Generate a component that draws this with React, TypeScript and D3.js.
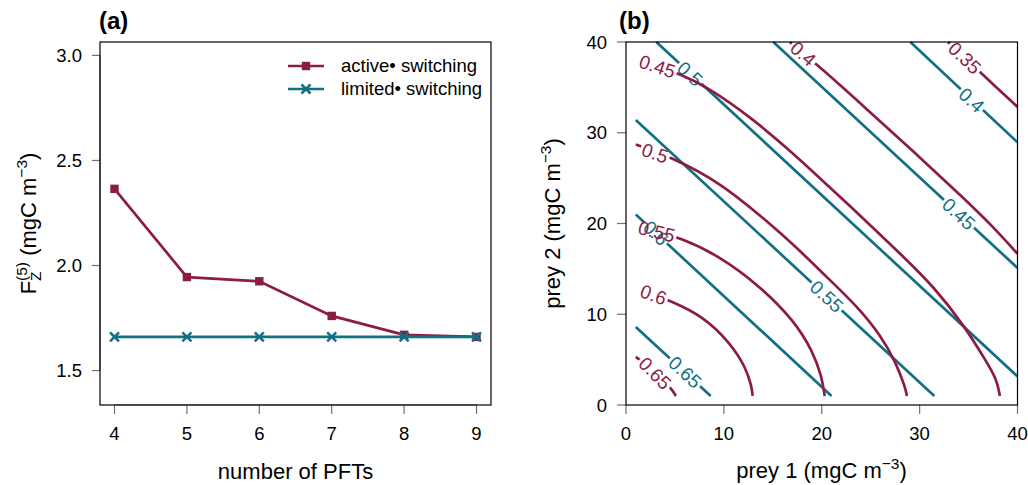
import React from "react";
import * as d3 from "d3";

const FONT = "'Liberation Sans', Arial, Helvetica, sans-serif";
const CRIMSON = "#8c1c47";
const TEAL = "#117183";
const TICK_GRAY = "#707070";

// ---------- Panel (a) data ----------
const numberOfPFTs = [4, 5, 6, 7, 8, 9];
const activeSwitchingF = [2.365, 1.945, 1.925, 1.76, 1.67, 1.66];
const limitedSwitchingF = [1.66, 1.66, 1.66, 1.66, 1.66, 1.66];
const yTicksA = [1.5, 2.0, 2.5, 3.0];
const yTickLabelsA = ["1.5", "2.0", "2.5", "3.0"];
const legendLabels = ["active\u2022 switching", "limited\u2022 switching"];

// ---------- Panel (b) data (prey1, prey2) ----------
const preyTicks = [0, 10, 20, 30, 40];

const limitedLevels = ["0.65", "0.6", "0.55", "0.5", "0.45", "0.4"];
const limitedLines: number[][][] = [
  [[1, 8.6], [8.65, 1]],
  [[1, 21], [21, 1]],
  [[1, 31.4], [31.5, 1]],
  [[3.1, 40], [40, 3.15]],
  [[15.05, 40], [40, 15.1]],
  [[29.05, 40], [40, 28.95]],
];
const limitedLabelAt = [
  [6.03, 3.62],
  [3.05, 18.95],
  [20.5, 11.97],
  [6.54, 36.5],
  [34.0, 21.05],
  [35.3, 33.6],
];

const activeLevels = ["0.65", "0.6", "0.55", "0.5", "0.45", "0.4", "0.35"];
const activeLines: number[][][] = [
  [[1.0, 5.3], [2.0, 4.55], [3.0, 3.6], [4.0, 2.5], [4.7, 1.7], [5.1, 1.0]],
  [[2.8, 12.15], [4.5, 11.5], [7.9, 9.77], [10.6, 6.9], [12.2, 4.25], [12.84, 2.05], [12.94, 1.0]],
  [[3.13, 19.1], [5.45, 18.47], [9.6, 16.4], [13.7, 13.07], [17.1, 9.4], [19.1, 5.9], [20.0, 3.15], [20.3, 1.0]],
  [[1.0, 28.7], [4.9, 27.2], [9.6, 24.5], [13.7, 20.9], [17.3, 17.5], [20.6, 14.0], [23.6, 10.9], [26.1, 7.56], [27.6, 4.6], [28.5, 2.05], [28.7, 1.0]],
  [[3.2, 37.3], [5.45, 36.5], [8.4, 35.0], [13.0, 31.5], [17.0, 27.8], [20.4, 24.4], [24.4, 20.4], [28.0, 16.7], [31.5, 13.0], [34.6, 8.66], [36.7, 5.0], [37.9, 2.8], [38.2, 1.0]],
  [[16.75, 40], [18.1, 38.7], [19.65, 37.4], [24.4, 32.8], [29.5, 27.8], [34.6, 22.7], [37.4, 19.76], [40, 16.67]],
  [[32.9, 40], [34.6, 38.25], [36.3, 36.55], [40, 32.85]],
];
const activeLabelAt = [
  [2.96, 3.5],
  [2.8, 12.15],
  [3.13, 19.1],
  [2.96, 27.75],
  [3.2, 37.3],
  [18.1, 38.7],
  [34.6, 38.25],
];

const LABEL_FS = 19;
const TICK_FS = 18.5;
const AXIS_FS = 22;

function textWidth(s: string, fs: number) {
  let w = 0;
  for (const c of s) w += c === "." ? 0.278 : 0.556;
  return w * fs;
}

export default function App() {
  const xA = d3.scaleLinear().domain([3.8, 9.2]).range([100, 491]);
  const yA = d3.scaleLinear().domain([1.336, 3.064]).range([405, 42]);
  const xB = d3.scaleLinear().domain([0, 40]).range([626, 1017.5]);
  const yB = d3.scaleLinear().domain([0, 40]).range([405, 42]);

  const lineA = d3
    .line<number>()
    .x((_, i) => xA(numberOfPFTs[i]))
    .y((d) => yA(d));

  const contourPath = d3
    .line<number[]>()
    .x((d) => xB(d[0]))
    .y((d) => yB(d[1]))
    .curve(d3.curveBasis);

  function renderContours(
    lines: number[][][],
    levels: string[],
    labelAt: number[][],
    color: string,
    prefix: string
  ) {
    return lines.map((pts, i) => {
      const lx = xB(labelAt[i][0]);
      const ly = yB(labelAt[i][1]);
      const px = pts.map((p) => [xB(p[0]), yB(p[1])]);
      let best = Infinity;
      let ang = 0;
      for (let k = 0; k < px.length - 1; k++) {
        const [x1, y1] = px[k];
        const [x2, y2] = px[k + 1];
        const dx = x2 - x1;
        const dy = y2 - y1;
        const L2 = dx * dx + dy * dy;
        let t = L2 > 0 ? ((lx - x1) * dx + (ly - y1) * dy) / L2 : 0;
        t = Math.max(0, Math.min(1, t));
        const qx = x1 + t * dx;
        const qy = y1 + t * dy;
        const dist = Math.hypot(lx - qx, ly - qy);
        if (dist < best) {
          best = dist;
          ang = (Math.atan2(dy, dx) * 180) / Math.PI;
        }
      }
      if (ang > 90) ang -= 180;
      if (ang < -90) ang += 180;
      const w = textWidth(levels[i], LABEL_FS) + 4;
      const h = 14;
      const id = `${prefix}-mask-${i}`;
      return (
        <g key={id}>
          <mask id={id} maskUnits="userSpaceOnUse" x={0} y={0} width={1028} height={485}>
            <rect x={0} y={0} width={1028} height={485} fill="white" />
            <rect
              x={-w / 2}
              y={-h / 2}
              width={w}
              height={h}
              fill="black"
              transform={`translate(${lx},${ly}) rotate(${ang})`}
            />
          </mask>
          <path
            d={contourPath(pts) || ""}
            fill="none"
            stroke={color}
            strokeWidth={2.7}
            mask={`url(#${id})`}
          />
          <text
            transform={`translate(${lx},${ly}) rotate(${ang})`}
            textAnchor="middle"
            dy="0.35em"
            fontSize={LABEL_FS}
            fill={color}
          >
            {levels[i]}
          </text>
        </g>
      );
    });
  }

  return (
    <svg
      width={1028}
      height={485}
      style={{ position: "absolute", left: 0, top: 0, background: "white" }}
      fontFamily={FONT}
    >
      <rect x={0} y={0} width={1028} height={485} fill="white" />

      {/* ================= Panel (a) ================= */}
      <text x={99} y={29} fontSize={24} fontWeight="bold">
        (a)
      </text>
      {yTicksA.map((t, i) => (
        <g key={`ya${i}`}>
          <line x1={92} x2={100} y1={yA(t)} y2={yA(t)} stroke={TICK_GRAY} strokeWidth={1.2} />
          <text x={82} y={yA(t)} dy="0.36em" textAnchor="end" fontSize={TICK_FS}>
            {yTickLabelsA[i]}
          </text>
        </g>
      ))}
      <line x1={100} x2={100} y1={yA(1.5)} y2={yA(3.0)} stroke={TICK_GRAY} strokeWidth={1.2} />
      {numberOfPFTs.map((t) => (
        <g key={`xa${t}`}>
          <line x1={xA(t)} x2={xA(t)} y1={405} y2={414} stroke={TICK_GRAY} strokeWidth={1.2} />
          <text x={xA(t)} y={440} textAnchor="middle" fontSize={TICK_FS}>
            {t}
          </text>
        </g>
      ))}
      <line x1={xA(4)} x2={xA(9)} y1={405} y2={405} stroke={TICK_GRAY} strokeWidth={1.2} />
      <rect x={100} y={42} width={391} height={363} fill="none" stroke="black" strokeWidth={1.2} />

      {/* active switching */}
      <path d={lineA(activeSwitchingF) || ""} fill="none" stroke={CRIMSON} strokeWidth={2.7} />
      {activeSwitchingF.map((v, i) => (
        <rect
          key={`sq${i}`}
          x={xA(numberOfPFTs[i]) - 4.2}
          y={yA(v) - 4.2}
          width={8.4}
          height={8.4}
          fill={CRIMSON}
        />
      ))}
      {/* limited switching */}
      <path d={lineA(limitedSwitchingF) || ""} fill="none" stroke={TEAL} strokeWidth={2.7} />
      {limitedSwitchingF.map((v, i) => {
        const cx = xA(numberOfPFTs[i]);
        const cy = yA(v);
        const r = 4.5;
        return (
          <g key={`x${i}`} stroke={TEAL} strokeWidth={2.5}>
            <line x1={cx - r} y1={cy - r} x2={cx + r} y2={cy + r} />
            <line x1={cx - r} y1={cy + r} x2={cx + r} y2={cy - r} />
          </g>
        );
      })}

      {/* legend */}
      <g>
        <line x1={288} x2={324} y1={66} y2={66} stroke={CRIMSON} strokeWidth={2.7} />
        <rect x={301.8} y={61.8} width={8.4} height={8.4} fill={CRIMSON} />
        <text x={341} y={66} dy="0.35em" fontSize={18.5}>
          {legendLabels[0]}
        </text>
        <line x1={288} x2={324} y1={89} y2={89} stroke={TEAL} strokeWidth={2.7} />
        <g stroke={TEAL} strokeWidth={2.5}>
          <line x1={301.5} y1={84.5} x2={310.5} y2={93.5} />
          <line x1={301.5} y1={93.5} x2={310.5} y2={84.5} />
        </g>
        <text x={341} y={89} dy="0.35em" fontSize={18.5}>
          {legendLabels[1]}
        </text>
      </g>

      {/* axis labels */}
      <text x={295.5} y={479} textAnchor="middle" fontSize={AXIS_FS}>
        number of PFTs
      </text>
      <text transform="translate(36,223.5) rotate(-90)" textAnchor="middle" fontSize={AXIS_FS}>
        <tspan>F</tspan>
        <tspan fontSize={15.5} dy={5}>Z</tspan>
        <tspan fontSize={15.5} dx={-9.5} dy={-14}>(5)</tspan>
        <tspan fontSize={AXIS_FS} dy={9}>{"\u00a0(mgC m"}</tspan>
        <tspan fontSize={15.5} dy={-9}>{"\u22123"}</tspan>
        <tspan fontSize={AXIS_FS} dy={9}>)</tspan>
      </text>

      {/* ================= Panel (b) ================= */}
      <text x={619} y={29} fontSize={24} fontWeight="bold">
        (b)
      </text>
      {preyTicks.map((t) => (
        <g key={`yb${t}`}>
          <line x1={617} x2={626} y1={yB(t)} y2={yB(t)} stroke={TICK_GRAY} strokeWidth={1.2} />
          <text x={607} y={yB(t)} dy="0.36em" textAnchor="end" fontSize={TICK_FS}>
            {t}
          </text>
        </g>
      ))}
      {preyTicks.map((t) => (
        <g key={`xb${t}`}>
          <line x1={xB(t)} x2={xB(t)} y1={405} y2={414} stroke={TICK_GRAY} strokeWidth={1.2} />
          <text x={xB(t)} y={440} textAnchor="middle" fontSize={TICK_FS}>
            {t}
          </text>
        </g>
      ))}

      {renderContours(limitedLines, limitedLevels, limitedLabelAt, TEAL, "lim")}
      {renderContours(activeLines, activeLevels, activeLabelAt, CRIMSON, "act")}

      <rect x={626} y={42} width={391.5} height={363} fill="none" stroke="black" strokeWidth={1.2} />

      <text x={821.5} y={478} textAnchor="middle" fontSize={AXIS_FS}>
        <tspan>prey 1 (mgC m</tspan>
        <tspan fontSize={15.5} dy={-9}>{"\u22123"}</tspan>
        <tspan fontSize={AXIS_FS} dy={9}>)</tspan>
      </text>
      <text transform="translate(560,223.5) rotate(-90)" textAnchor="middle" fontSize={AXIS_FS}>
        <tspan>prey 2 (mgC m</tspan>
        <tspan fontSize={15.5} dy={-9}>{"\u22123"}</tspan>
        <tspan fontSize={AXIS_FS} dy={9}>)</tspan>
      </text>
    </svg>
  );
}
